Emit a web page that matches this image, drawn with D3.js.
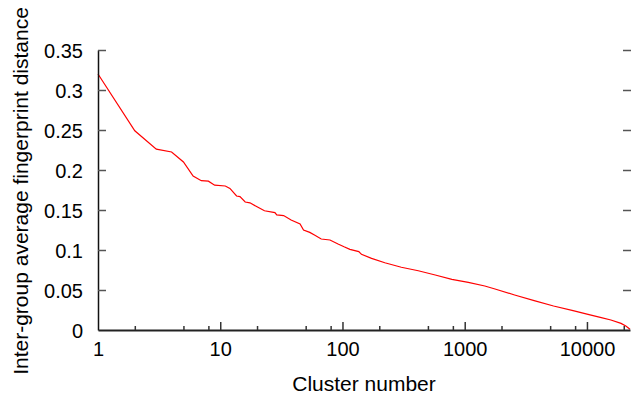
<!DOCTYPE html>
<html><head><meta charset="utf-8">
<script src="https://cdn.jsdelivr.net/npm/d3@7"></script>
<style>body{margin:0;background:#fff}svg{display:block}text{font-family:"Liberation Sans",Arial,sans-serif;fill:#000}</style>
</head><body><svg id="c" width="631" height="397"></svg>
<script>
const clusterN = [1,2,3,4,5,6,7,8,9,11,12,13.6,14.5,16,17.5,20,23,28,29,33,38,45,48,54,59,67,79,92,103,115,136,143,173,222,303,417,574,785,1070,1460,1770,2560,3700,5330,7700,10200,13100,15700,19000,20800,22500];
const distance = [0.32,0.249,0.226,0.2225,0.21,0.1925,0.1866,0.186,0.181,0.180,0.177,0.1675,0.1667,0.16,0.159,0.154,0.149,0.1467,0.1438,0.143,0.1375,0.1325,0.125,0.122,0.1187,0.1137,0.1125,0.1075,0.104,0.1008,0.098,0.0946,0.0896,0.0841,0.0784,0.0741,0.0687,0.0633,0.0596,0.055,0.0513,0.0438,0.0367,0.030,0.0242,0.0196,0.0154,0.0125,0.0083,0.005,0.0009];
const xTicks = [1,10,100,1000,10000];
const xTickLabels = ["1","10","100","1000","10000"];
const xMinor = [2,5,8,20,50,80,200,500,800,2000,5000,8000,20000];
const yTicks = [0,0.05,0.1,0.15,0.2,0.25,0.3,0.35];
const yTickLabels = ["0","0.05","0.1","0.15","0.2","0.25","0.3","0.35"];

const svg = d3.select("#c");
const L=98, R=630, T=50, B=330;
const x = d3.scaleLog().domain([1,22500]).range([L,R]);
const y = d3.scaleLinear().domain([0,0.35]).range([B,T]);

// line
const line = d3.line().x((d,i)=>x(clusterN[i])).y(d=>y(d));
svg.append("path").datum(distance).attr("d",line)
  .attr("fill","none").attr("stroke","#ff0000").attr("stroke-width",1.2);

// y axis
const ya = svg.append("g").attr("transform",`translate(${L},0)`)
  .call(d3.axisLeft(y).tickValues(yTicks).tickFormat((d,i)=>yTickLabels[i]).tickSizeInner(-8).tickSizeOuter(0).tickPadding(15));
ya.select(".domain").attr("stroke","#111").attr("stroke-width",1.5);
ya.selectAll(".tick line").attr("stroke","#555").attr("stroke-width",1.5);
ya.selectAll(".tick text").attr("font-size",20).attr("font-family","Liberation Sans, Arial, sans-serif").attr("fill","#000").attr("dy","0.36em");
ya.selectAll(".tick").filter(d=>d===0).select("line").remove();

// right mirror ticks
const ra = svg.append("g").attr("transform",`translate(${R+1},0)`)
  .call(d3.axisRight(y).tickValues(yTicks.filter(d=>d>0)).tickFormat("").tickSizeInner(-8).tickSizeOuter(0));
ra.select(".domain").remove();
ra.selectAll(".tick line").attr("stroke","#555").attr("stroke-width",1.5);

// x axis
const xa = svg.append("g").attr("transform",`translate(0,${B})`)
  .call(d3.axisBottom(x).tickValues(xTicks).tickFormat((d,i)=>xTickLabels[i]).tickSizeInner(-8).tickSizeOuter(0).tickPadding(15));
xa.select(".domain").attr("stroke","#222").attr("stroke-width",2);
xa.selectAll(".tick line").attr("stroke","#333").attr("stroke-width",1.5);
xa.selectAll(".tick text").attr("font-size",20).attr("font-family","Liberation Sans, Arial, sans-serif").attr("fill","#000").attr("dy","0.55em");
xa.selectAll(".tick").filter(d=>d===1).select("line").remove();
const xm = svg.append("g").attr("transform",`translate(0,${B})`)
  .call(d3.axisBottom(x).tickValues(xMinor).tickFormat("").tickSizeInner(-4).tickSizeOuter(0));
xm.select(".domain").remove();
xm.selectAll(".tick line").attr("stroke","#333").attr("stroke-width",1.5);

// titles
svg.append("text").attr("x",364).attr("y",391).attr("text-anchor","middle").attr("font-size",21).text("Cluster number");
svg.append("text").attr("transform","translate(28,191) rotate(-90)").attr("text-anchor","middle").attr("font-size",21).text("Inter-group average fingerprint distance");
</script></body></html>
